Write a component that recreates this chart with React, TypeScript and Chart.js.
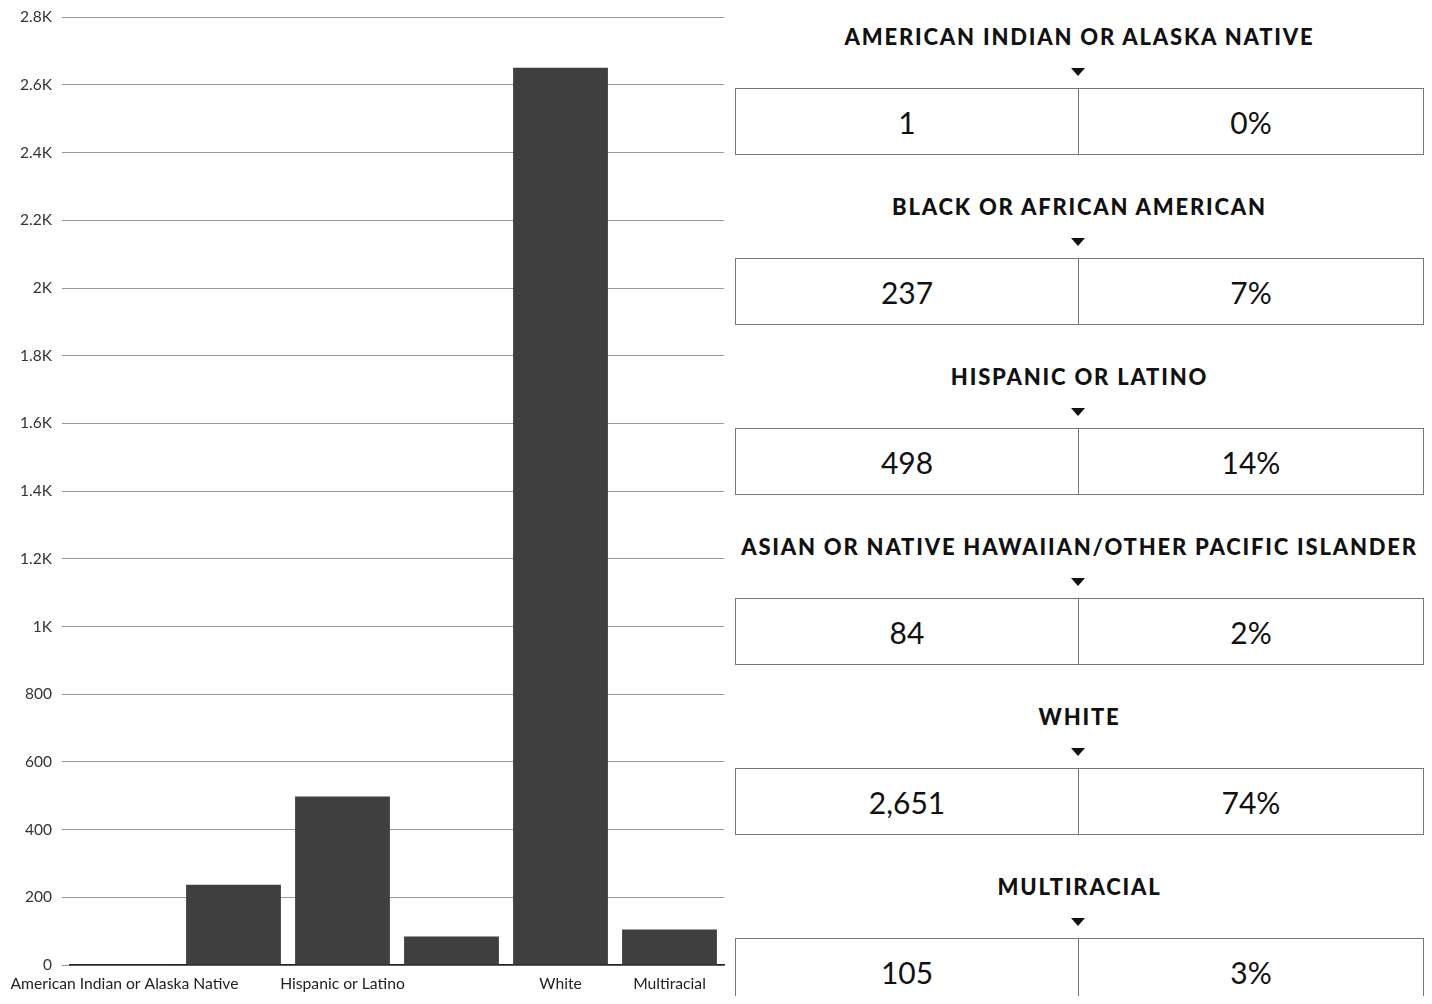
import React, { useEffect, useRef } from "react";
import { Chart, registerables } from "chart.js";

Chart.register(...registerables);

const categories = [
  "American Indian or Alaska Native",
  "Black or African American",
  "Hispanic or Latino",
  "Asian or Native Hawaiian/Other Pacific Islander",
  "White",
  "Multiracial",
];
const counts = [1, 237, 498, 84, 2651, 105];
const countLabels = ["1", "237", "498", "84", "2,651", "105"];
const percents = ["0%", "7%", "14%", "2%", "74%", "3%"];
const hiddenAxisLabels = [1, 3];
const yMax = 2800;
const yStep = 200;

const FONT = "Lato, 'Open Sans', sans-serif";

function BarChart() {
  const ref = useRef<HTMLCanvasElement | null>(null);
  useEffect(() => {
    if (!ref.current) return;
    const chart = new Chart(ref.current, {
      type: "bar",
      data: {
        labels: categories,
        datasets: [
          {
            data: counts,
            backgroundColor: "#3f3f3f",
            borderWidth: 0,
            barPercentage: 0.87,
            categoryPercentage: 1,
          },
        ],
      },
      options: {
        animation: false,
        responsive: false,
        maintainAspectRatio: false,
        layout: { padding: { top: 0, right: 11, bottom: 0, left: 0 } },
        plugins: { legend: { display: false }, tooltip: { enabled: false } },
        scales: {
          x: {
            grid: { display: false },
            border: { display: true, color: "#222", width: 1.5 },
            ticks: {
              autoSkip: false,
              maxRotation: 0,
              minRotation: 0,
              padding: 2,
              color: "#222",
              font: { family: FONT, size: 15.7 },
              callback: (_v: any, i: number) =>
                hiddenAxisLabels.includes(i) ? "" : categories[i],
            },
            afterFit: (s: any) => {
              s.height = 31;
              s.paddingLeft = 0;
              s.paddingRight = 0;
            },
          },
          y: {
            min: 0,
            max: yMax,
            ticks: {
              stepSize: yStep,
              padding: 10,
              color: "#333",
              font: { family: FONT, size: 15.5 },
              callback: (v: any) =>
                v >= 1000 ? `${Number(v) / 1000}K` : `${v}`,
            },
            grid: { color: "rgba(0,0,0,0.4)", lineWidth: 1, tickLength: 8, drawTicks: true },
            border: { display: false },
            afterFit: (s: any) => {
              s.width = 62;
            },
          },
        },
      },
    });
    return () => chart.destroy();
  }, []);
  return <canvas ref={ref} width={727} height={998} style={{ display: "block" }} />;
}

export default function App() {
  return (
    <div style={{ position: "relative", width: 1416, height: 988, fontFamily: FONT }}>
      <style>{`body{overflow:hidden}`}</style>
      <div style={{ position: "absolute", left: 0, top: -10 }}>
        <BarChart />
      </div>
      {categories.map((c, i) => (
        <React.Fragment key={c}>
          <div
            style={{
              position: "absolute",
              left: 727,
              width: 689,
              top: 16 + 170 * i,
              height: 26,
              lineHeight: "26px",
              textAlign: "center",
              fontWeight: 900,
              fontSize: 22,
              letterSpacing: 1.8,
              color: "#111",
              whiteSpace: "nowrap",
            }}
          >
            {c.toUpperCase()}
          </div>
          <div
            style={{
              position: "absolute",
              left: 1063,
              top: 60 + 170 * i,
              width: 0,
              height: 0,
              borderLeft: "7px solid transparent",
              borderRight: "7px solid transparent",
              borderTop: "8px solid #111",
            }}
          />
          <div
            style={{
              position: "absolute",
              left: 727,
              top: 80 + 170 * i,
              width: 689,
              height: 67,
              boxSizing: "border-box",
              border: "1px solid #777",
              display: "flex",
              color: "#111",
              fontSize: 30,
            }}
          >
            <div
              style={{
                width: 342,
                borderRight: "1px solid #777",
                display: "flex",
                alignItems: "center",
                justifyContent: "center",
              }}
            >
              {countLabels[i]}
            </div>
            <div
              style={{
                flex: 1,
                display: "flex",
                alignItems: "center",
                justifyContent: "center",
              }}
            >
              {percents[i]}
            </div>
          </div>
        </React.Fragment>
      ))}
    </div>
  );
}
